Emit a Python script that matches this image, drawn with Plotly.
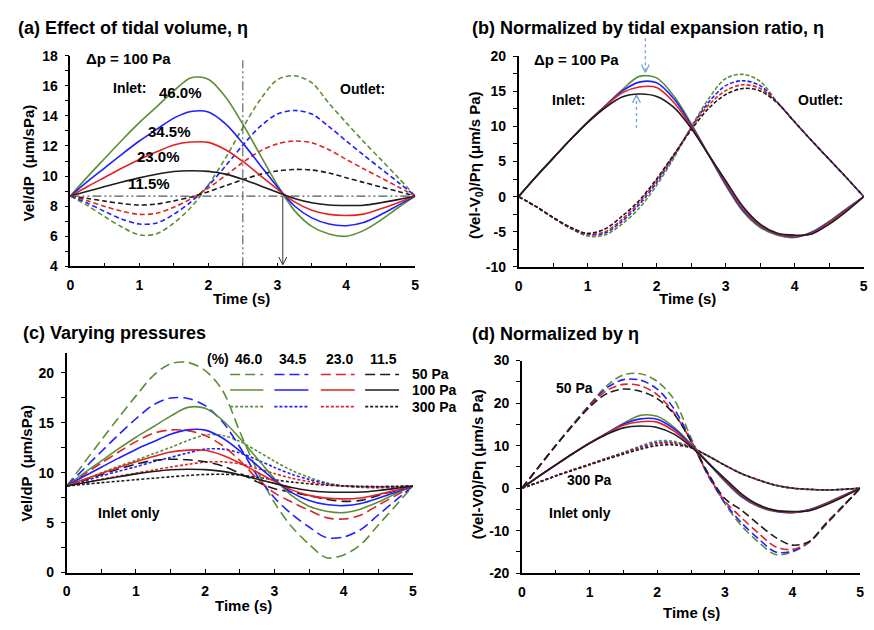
import plotly.graph_objects as go

# ---------------------------------------------------------------- data
TIME = [0.0, 0.25, 0.5, 0.75, 1.0, 1.25, 1.5, 1.75, 2.0, 2.25, 2.5,
        2.75, 3.0, 3.25, 3.5, 3.75, 4.0, 4.25, 4.5, 4.75, 5.0]

ETA_PCT = [46.0, 34.5, 23.0, 11.5]          # tidal expansion ratio (%)
ETA_LABELS = ["46.0", "34.5", "23.0", "11.5"]
ETA_TEXT = ["46.0%", "34.5%", "23.0%", "11.5%"]
PRESSURE_LABELS = ["50 Pa", "100 Pa", "300 Pa"]
COLORS = ["#5b8f35", "#1f1fff", "#e02424", "#1c1c1c"]

B_YTICKS = [-10, -5, 0, 5, 10, 15, 20]
B_YTEXT = ["-10", "-5", "0", "5", "10", "15", "20"]
D_YTICKS = [-20, -10, 0, 10, 20, 30]
D_YTEXT = ["-20", "-10", "0", "10", "20", "30"]

# Vel/dP (um/s Pa), inlet, dp = 100 Pa
inlet100_460 = [8.67, 9.96, 11.18, 12.40, 13.55, 14.60, 15.66, 16.54, 16.44, 15.25, 13.45,
                11.43, 9.41, 7.70, 6.65, 6.14, 6.00, 6.37, 7.06, 7.89, 8.67]
inlet100_345 = [8.67, 9.64, 10.55, 11.46, 12.33, 13.10, 13.85, 14.29, 14.26, 13.47, 12.19,
                10.74, 9.29, 8.01, 7.22, 6.81, 6.70, 6.91, 7.43, 8.05, 8.67]
inlet100_230 = [8.67, 9.31, 9.92, 10.53, 11.10, 11.61, 12.07, 12.26, 12.24, 11.75, 10.97,
                10.05, 9.13, 8.28, 7.73, 7.45, 7.38, 7.47, 7.82, 8.23, 8.67]
inlet100_115 = [8.67, 8.99, 9.30, 9.60, 9.88, 10.12, 10.30, 10.35, 10.31, 10.13, 9.79,
                9.36, 8.93, 8.51, 8.22, 8.07, 8.04, 8.06, 8.22, 8.43, 8.67]

# Vel/dP, outlet, dp = 100 Pa
outlet100_460 = [8.67, 8.03, 7.29, 6.60, 6.09, 6.16, 6.88, 7.93, 9.41, 11.20, 13.22,
                 15.06, 16.40, 16.67, 16.21, 14.83, 13.55, 12.30, 11.11, 9.91, 8.67]
outlet100_345 = [8.67, 8.19, 7.64, 7.13, 6.81, 6.88, 7.46, 8.29, 9.36, 10.67, 12.05,
                 13.29, 14.12, 14.36, 14.12, 13.29, 12.33, 11.40, 10.50, 9.60, 8.67]
outlet100_230 = [8.67, 8.35, 7.98, 7.66, 7.45, 7.52, 7.93, 8.49, 9.20, 10.03, 10.90,
                 11.66, 12.14, 12.33, 12.21, 11.75, 11.11, 10.49, 9.89, 9.29, 8.67]
outlet100_115 = [8.67, 8.51, 8.33, 8.17, 8.07, 8.14, 8.35, 8.61, 8.96, 9.36, 9.76,
                 10.11, 10.34, 10.44, 10.40, 10.20, 9.89, 9.58, 9.28, 8.98, 8.67]

# Vel/dP, inlet, dp = 50 Pa
inlet50_460 = [8.67, 10.97, 13.27, 15.52, 17.69, 19.71, 20.91, 21.04, 20.22, 18.24, 14.10,
               10.23, 7.01, 4.58, 2.83, 1.49, 1.77, 2.83, 4.76, 6.69, 8.67]
inlet50_345 = [8.67, 10.40, 12.12, 13.81, 15.40, 16.78, 17.47, 17.43, 16.71, 15.09, 12.57,
               9.71, 7.50, 5.84, 4.56, 3.50, 3.56, 4.32, 5.77, 7.22, 8.67]
inlet50_230 = [8.67, 9.82, 10.97, 12.07, 13.11, 13.94, 14.28, 14.21, 13.73, 12.72, 11.22,
               9.41, 7.98, 7.06, 6.23, 5.50, 5.36, 5.77, 6.76, 7.70, 8.67]
inlet50_115 = [8.67, 9.25, 9.82, 10.36, 10.86, 11.22, 11.35, 11.29, 11.09, 10.67, 9.94,
               9.08, 8.39, 8.07, 7.69, 7.34, 7.13, 7.23, 7.73, 8.19, 8.67]

# Vel/dP, inlet, dp = 300 Pa
inlet300_460 = [8.67, 9.31, 10.00, 10.65, 11.25, 11.89, 12.53, 13.22, 13.78, 13.73, 13.13,
                12.17, 11.15, 10.23, 9.54, 8.99, 8.67, 8.53, 8.49, 8.53, 8.67]
inlet300_345 = [8.67, 9.15, 9.67, 10.15, 10.60, 11.09, 11.53, 11.98, 12.36, 12.36, 11.98,
                11.29, 10.53, 9.84, 9.33, 8.91, 8.67, 8.57, 8.53, 8.57, 8.67]
inlet300_230 = [8.67, 8.99, 9.34, 9.66, 9.96, 10.26, 10.56, 10.83, 11.06, 11.09, 10.88,
                10.42, 9.91, 9.45, 9.11, 8.83, 8.67, 8.60, 8.58, 8.60, 8.67]
inlet300_115 = [8.67, 8.83, 9.00, 9.15, 9.30, 9.45, 9.59, 9.72, 9.82, 9.84, 9.76,
                9.54, 9.29, 9.06, 8.89, 8.75, 8.67, 8.64, 8.62, 8.64, 8.67]

INLET_100 = [inlet100_460, inlet100_345, inlet100_230, inlet100_115]
OUTLET_100 = [outlet100_460, outlet100_345, outlet100_230, outlet100_115]
INLET_50 = [inlet50_460, inlet50_345, inlet50_230, inlet50_115]
INLET_300 = [inlet300_460, inlet300_345, inlet300_230, inlet300_115]


def normalize(values, eta_pct):
    """(Vel - V0) / (dP * eta): velocity change per unit tidal expansion."""
    v0 = values[0]
    return [(v - v0) / (eta_pct / 100.0) for v in values]


# ---------------------------------------------------------------- styling
W, H = 874, 630
FONT = "Liberation Sans, Arial, sans-serif"
LW = 1.6


def px(x):
    return x / W


def py(y):
    return 1 - y / H


fig = go.Figure()


def add_group(series, xa, ya, dash, normed=False):
    for vals, col, eta in zip(series, COLORS, ETA_PCT):
        yv = normalize(vals, eta) if normed else vals
        fig.add_trace(go.Scatter(
            x=TIME, y=yv, mode="lines", xaxis=xa, yaxis=ya,
            line=dict(color=col, width=LW, dash=dash, shape="spline", smoothing=0.9),
            showlegend=False, hoverinfo="skip"))


# (a) raw, inlet + outlet
add_group(OUTLET_100, "x", "y", "5px,3px")
add_group(INLET_100, "x", "y", "solid")
# (b) normalised, inlet + outlet
add_group(OUTLET_100, "x2", "y2", "4px,2px", normed=True)
add_group(INLET_100, "x2", "y2", "solid", normed=True)
# (c) raw, inlet at three pressures
add_group(INLET_300, "x3", "y3", "3px,2px")
add_group(INLET_50, "x3", "y3", "10px,5px")
add_group(INLET_100, "x3", "y3", "solid")
# (d) normalised, inlet at three pressures
add_group(INLET_300, "x4", "y4", "3px,2px", normed=True)
add_group(INLET_50, "x4", "y4", "8px,4px", normed=True)
add_group(INLET_100, "x4", "y4", "solid", normed=True)

tickfont = dict(family=FONT, size=14, color="black", weight="bold")


def xaxis_cfg(x0, x1, anchor):
    return dict(domain=[px(x0), px(x1)], anchor=anchor, range=[0, 5], dtick=1, tick0=0,
                ticks="inside", ticklen=4, tickwidth=1.2, tickcolor="black",
                minor=dict(dtick=0.5, tick0=0, ticks="inside", ticklen=4,
                           tickwidth=1.2, tickcolor="black"),
                showline=True, linecolor="black", linewidth=1.5,
                showgrid=False, zeroline=False, tickfont=tickfont,
                ticklabelstandoff=5, fixedrange=True)


def yaxis_cfg(y_top, y_bot, anchor, rng, dtick, minor, tickvals=None, ticktext=None):
    cfg = dict(domain=[py(y_bot), py(y_top)], anchor=anchor, range=rng, dtick=dtick, tick0=0,
               ticks="outside", ticklen=4, tickwidth=1.2, tickcolor="black",
               minor=dict(dtick=minor, tick0=0, ticks="outside", ticklen=4,
                          tickwidth=1.2, tickcolor="black"),
               showline=True, linecolor="black", linewidth=1.5,
               showgrid=False, zeroline=False, tickfont=tickfont,
               ticklabelstandoff=4, fixedrange=True)
    if tickvals is not None:
        cfg.update(tickmode="array", tickvals=tickvals, ticktext=ticktext)
    return cfg


fig.update_layout(
    width=W, height=H, margin=dict(l=0, r=0, t=0, b=0),
    paper_bgcolor="white", plot_bgcolor="white", showlegend=False,
    font=dict(family=FONT, color="black"),
    xaxis=xaxis_cfg(67, 415, "y"),
    yaxis=yaxis_cfg(49, 265, "x", [4, 18], 2, 1),
    xaxis2=xaxis_cfg(519.3, 867.7, "y2"),
    yaxis2=yaxis_cfg(49.3, 265.7, "x2", [-10, 20], 5, 2.5, B_YTICKS, B_YTEXT),
    xaxis3=xaxis_cfg(63.3, 412.7, "y3"),
    yaxis3=yaxis_cfg(353.8, 579.3, "x3", [0, 22], 5, 2.5),
    xaxis4=xaxis_cfg(522.7, 864, "y4"),
    yaxis4=yaxis_cfg(361.7, 580, "x4", [-20, 30], 10, 5, D_YTICKS, D_YTEXT),
)

# ---------------------------------------------------------------- reference lines (a)
V0 = inlet100_460[0]
DASHDOT = "9px,3px,2px,3px,2px,3px"
fig.add_shape(type="line", xref="x", yref="y", x0=0, x1=5, y0=V0, y1=V0,
              line=dict(color="#555555", width=1.3, dash=DASHDOT))
fig.add_shape(type="line", xref="x", yref="y", x0=2.5, x1=2.5, y0=4, y1=17.7,
              line=dict(color="#666666", width=1.2, dash=DASHDOT))


def arrow(x, y_tail, y_tip, color, width, dash="solid", head=4.0, spread=8.0):
    """Vertical arrow in pixel units with an open V head."""
    d = 1 if y_tip > y_tail else -1
    fig.add_shape(type="line", xref="paper", yref="paper", x0=px(x), x1=px(x),
                  y0=py(y_tail), y1=py(y_tip - d * 1), line=dict(color=color, width=width, dash=dash))
    for s in (-1, 1):
        fig.add_shape(type="line", xref="paper", yref="paper",
                      x0=px(x + s * head), y0=py(y_tip - d * spread), x1=px(x), y1=py(y_tip),
                      line=dict(color=color, width=width))


# (a) crossing time marker: from the baseline down to the time axis
arrow(67 + 3.08 * 69.6, 49 + (18 - V0) * 15.43, 263.5, "#333333", 1.0)

# (b) peak markers
ARROW_BLUE = "#7ea8dc"
arrow(647.3, 31, 66, ARROW_BLUE, 1.4, dash="dot")
arrow(638.3, 123, 89.3, ARROW_BLUE, 1.4, dash="dot")

# ---------------------------------------------------------------- legend table (c)
LEG_X = [(2.36, 2.84), (3.00, 3.49), (3.67, 4.16), (4.31, 4.80)]
LEG_Y = [19.83, 18.27, 16.61]
LEG_DASH = ["10px,5px", "solid", "3px,2px"]
for (xa, xb), col in zip(LEG_X, COLORS):
    for yy, dsh in zip(LEG_Y, LEG_DASH):
        fig.add_shape(type="line", xref="x3", yref="y3", x0=xa, x1=xb, y0=yy, y1=yy,
                      line=dict(color=col, width=LW, dash=dsh))

annotations = []


def text(x, y, s, size=14, xref="paper", yref="paper", xanchor="center",
         yanchor="middle", angle=0):
    annotations.append(dict(x=x, y=y, xref=xref, yref=yref, text=s, showarrow=False,
                            xanchor=xanchor, yanchor=yanchor, textangle=angle,
                            font=dict(family=FONT, size=size, color="black", weight="bold")))


text(2.0, 21.4, "(%)", xref="x3", yref="y3", xanchor="left")
for (xa, xb), lab in zip(LEG_X, ETA_LABELS):
    text((xa + xb) / 2 + 0.02, 21.4, lab, xref="x3", yref="y3")
for yy, lab in zip(LEG_Y, PRESSURE_LABELS):
    text(4.96, yy, lab, xref="x3", yref="y3", xanchor="left")

# panel titles
text(px(12), py(21), "(a) Effect of tidal volume, η", size=18, xanchor="left")
text(px(470), py(21), "(b) Normalized by tidal expansion ratio, η", size=18, xanchor="left")
text(px(17), py(333), "(c) Varying pressures", size=18, xanchor="left")
text(px(470), py(334), "(d) Normalized by η", size=18, xanchor="left")

# axis titles
text(px(25.5), py(159), "Vel/dP  (μm/sPa)", size=15, angle=-90)
text(px(476.5), py(161), "(Vel-V<sub>0</sub>)/Pη (μm/s Pa)", size=15, angle=-90)
text(px(22.5), py(467), "Vel/dP  (μm/sPa)", size=15, angle=-90)
text(px(477.5), py(468), "(Vel-V0)/Pη (μm/s Pa)", size=15, angle=-90)
text(px(240), py(298), "Time (s)", size=15)
text(px(690), py(298), "Time (s)", size=15)
text(px(242), py(613), "Time (s)", size=15)
text(px(694), py(620), "Time (s)", size=15)

# (a) labels
text(0.2, 17.8, "Δp = 100 Pa", size=15, xref="x", yref="y", xanchor="left")
text(0.59, 15.86, "Inlet:", size=14, xref="x", yref="y", xanchor="left")
text(4.23, 15.82, "Outlet:", size=14, xref="x", yref="y")
for (tx, ty), lab in zip([(1.60, 15.56), (1.43, 12.93), (1.28, 11.28), (1.14, 9.51)], ETA_TEXT):
    text(tx, ty, lab, size=15, xref="x", yref="y")

# (b) labels
text(0.19, 19.45, "Δp = 100 Pa", size=15, xref="x2", yref="y2", xanchor="left")
text(0.72, 13.8, "Inlet:", size=14, xref="x2", yref="y2")
text(4.37, 13.8, "Outlet:", size=14, xref="x2", yref="y2")

# (c), (d) labels
text(0.90, 5.98, "Inlet only", size=14, xref="x3", yref="y3")
text(0.78, 23.5, "50 Pa", size=14, xref="x4", yref="y4")
text(1.00, 2.0, "300 Pa", size=14, xref="x4", yref="y4")
text(0.86, -5.8, "Inlet only", size=14, xref="x4", yref="y4")

fig.update_layout(annotations=annotations)

fig.write_html("out.html")
